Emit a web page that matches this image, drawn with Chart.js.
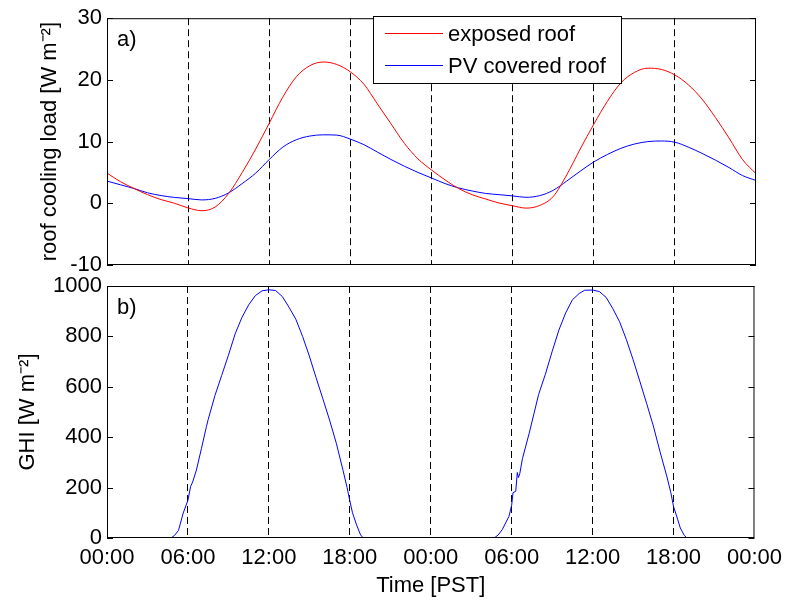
<!DOCTYPE html>
<html>
<head>
<meta charset="utf-8">
<script src="https://cdn.jsdelivr.net/npm/chart.js@4.4.1/dist/chart.umd.min.js"></script>
<style>
  html, body { margin: 0; padding: 0; background: #fff; }
  #wrap { position: relative; width: 789px; height: 603px; }
  canvas { position: absolute; left: 0; top: 0; }
</style>
</head>
<body>
<div id="wrap">
  <canvas id="loadChart" width="789" height="603"></canvas>
  <canvas id="ghiChart" width="789" height="603"></canvas>
</div>
<script>
// hours since start of first day (PST)
const hours = [0, 1, 2, 3, 4, 5, 6, 7, 8, 9, 10, 11, 12, 13, 14, 15, 16, 17, 18, 19, 20, 21, 22, 23, 24,
               25, 26, 27, 28, 29, 30, 31, 32, 33, 34, 35, 36, 37, 38, 39, 40, 41, 42, 43, 44, 45, 46, 47, 48];

// roof cooling load [W m-2]
const exposedRoof = [4.9, 3.5, 2.4, 1.4, 0.6, 0.0, -0.75, -1.2, -0.6, 1.6, 5.0, 8.8, 13.0, 17.2, 20.5, 22.3, 22.9, 22.5, 21.3, 19.3, 16.1, 12.9, 9.7, 7.2, 5.4,
                     3.8, 2.4, 1.4, 0.7, 0.05, -0.4, -0.78, -0.35, 1.1, 4.6, 8.8, 12.8, 16.5, 19.5, 21.2, 21.9, 21.7, 20.8, 19.2, 16.9, 13.9, 10.6, 7.1, 4.8];
const pvCoveredRoof = [3.6, 3.0, 2.4, 1.7, 1.25, 0.95, 0.76, 0.55, 0.8, 1.7, 3.2, 4.9, 7.1, 9.1, 10.3, 10.9, 11.1, 11.05, 10.4, 9.5, 8.3, 7.1, 6.0, 5.0, 4.1,
                       3.2, 2.5, 2.0, 1.6, 1.4, 1.2, 0.97, 1.24, 2.1, 3.6, 5.2, 6.7, 7.9, 8.9, 9.6, 10.0, 10.1, 9.9, 9.1, 8.1, 7.0, 5.8, 4.5, 3.7];

// global horizontal irradiance [W m-2]
const ghiHours = [0, 4.75, 5.0, 5.3, 5.65, 6.0, 6.2, 6.35, 6.63, 7.0, 7.37, 7.5, 8.0, 8.5, 9.0, 9.5, 10.0, 10.5, 11.0, 11.5, 12.0,
                  12.5, 13.0, 13.5, 14.0, 14.5, 15.0, 15.5, 16.0, 16.5, 17.0, 17.5, 17.8, 18.0, 18.2, 18.5, 18.8, 19.0,
                  28.7, 29.0, 29.3, 29.8, 30.0, 30.1, 30.3, 30.42, 30.5, 30.6, 30.8, 31.3, 32.0, 32.5, 33.0, 33.5, 34.0, 34.5, 35.0, 35.4, 36.0,
                  36.5, 37.0, 37.5, 38.0, 38.5, 39.0, 39.5, 40.0, 40.5, 41.0, 41.5, 41.8, 42.0, 42.3, 42.5, 42.8, 43.0, 48];
const ghiValues = [0, 0, 10, 30, 99, 150, 205, 222, 270, 355, 442, 470, 565, 645, 725, 810, 875, 925, 962, 981, 985,
                   982, 958, 915, 868, 800, 722, 636, 553, 468, 376, 268, 200, 148, 100, 52, 12, 0,
                   0, 12, 33, 86, 130, 180, 185, 260, 240, 255, 315, 416, 570, 650, 740, 825, 893, 945, 970, 983, 984,
                   978, 955, 910, 858, 788, 708, 622, 535, 445, 342, 245, 180, 125, 75, 40, 10, 0, 0];

const timeTicks = ['00:00', '06:00', '12:00', '18:00', '00:00', '06:00', '12:00', '18:00', '00:00'];

const FONT = 'Liberation Sans, Arial, Helvetica, sans-serif';
Chart.defaults.font.family = FONT;
Chart.defaults.font.size = 22;
Chart.defaults.color = '#000';

function pts(xs, ys) {
    return xs.map((x, i) => ({ x: x, y: ys[i] }));
}

// MATLAB style box, inward y ticks and panel letter
function framePlugin(letter) {
    return {
        id: 'frame',
        afterDatasetsDraw(chart) {
            const { ctx, chartArea: a, scales } = chart;
            ctx.save();
            ctx.strokeStyle = '#000';
            ctx.lineWidth = 1;
            ctx.strokeRect(a.left + 0.5, a.top + 0.5, a.right - a.left - 1, a.bottom - a.top - 1);
            ctx.beginPath();
            scales.y.ticks.forEach(t => {
                const py = Math.round(scales.y.getPixelForValue(t.value)) + 0.5;
                ctx.moveTo(a.left, py); ctx.lineTo(a.left + 6, py);
                ctx.moveTo(a.right, py); ctx.lineTo(a.right - 6, py);
            });
            ctx.stroke();
            ctx.fillStyle = '#000';
            ctx.font = '22px ' + FONT;
            ctx.textBaseline = 'middle';
            ctx.fillText(letter, a.left + 10, a.top + 22);
            ctx.restore();
        }
    };
}

const legendBox = {
    id: 'legendBox',
    afterDraw(chart) {
        const ctx = chart.ctx;
        const x0 = 373, y0 = 16, w = 248, h = 67;
        ctx.save();
        ctx.fillStyle = '#fff';
        ctx.fillRect(x0, y0, w, h);
        ctx.strokeStyle = '#000';
        ctx.lineWidth = 1;
        ctx.strokeRect(x0 + 0.5, y0 + 0.5, w, h);
        ctx.font = '22px ' + FONT;
        ctx.textBaseline = 'middle';
        chart.data.datasets.forEach((ds, i) => {
            const cy = y0 + 17.5 + i * 32;
            ctx.strokeStyle = ds.borderColor;
            ctx.beginPath();
            ctx.moveTo(385, cy); ctx.lineTo(443, cy);
            ctx.stroke();
            ctx.fillStyle = '#000';
            ctx.fillText(ds.label, 448, cy + 1);
        });
        ctx.restore();
    }
};

const dashedGrid = {
    display: true,
    drawOnChartArea: true,
    drawTicks: false,
    lineWidth: 1,
    color: c => (c.tick && (c.tick.value === 0 || c.tick.value === 48)) ? 'rgba(0,0,0,0)' : '#000'
};

new Chart(document.getElementById('loadChart'), {
    type: 'line',
    data: {
        datasets: [
            { label: 'exposed roof', data: pts(hours, exposedRoof), borderColor: '#ff0000', borderWidth: 1, pointRadius: 0, cubicInterpolationMode: 'monotone' },
            { label: 'PV covered roof', data: pts(hours, pvCoveredRoof), borderColor: '#0000ff', borderWidth: 1, pointRadius: 0, cubicInterpolationMode: 'monotone' }
        ]
    },
    options: {
        responsive: false,
        animation: false,
        devicePixelRatio: 1,
        layout: { padding: { top: 13, right: 33, bottom: 338, left: 0 } },
        plugins: { legend: { display: false }, tooltip: { enabled: false } },
        scales: {
            x: {
                type: 'linear', min: 0, max: 48,
                ticks: { stepSize: 6, display: false },
                grid: dashedGrid,
                border: { display: false, dash: [7, 4] },
                afterFit: s => { s.height = 0; }
            },
            y: {
                min: -10, max: 30,
                ticks: { stepSize: 10, padding: 5, callback: v => String(v) },
                grid: { drawOnChartArea: false, drawTicks: false },
                border: { display: false },
                title: { display: true, text: 'roof cooling load [W m\u207B\u00B2]', padding: { top: 37, bottom: 0 } },
                afterFit: s => { s.width = 107; }
            }
        }
    },
    plugins: [framePlugin('a)'), legendBox]
});

new Chart(document.getElementById('ghiChart'), {
    type: 'line',
    data: {
        datasets: [
            { label: 'GHI', data: pts(ghiHours, ghiValues), borderColor: '#0000ff', borderWidth: 1, pointRadius: 0, tension: 0 }
        ]
    },
    options: {
        responsive: false,
        animation: false,
        devicePixelRatio: 1,
        layout: { padding: { top: 286, right: 33, bottom: 0, left: 0 } },
        plugins: { legend: { display: false }, tooltip: { enabled: false } },
        scales: {
            x: {
                type: 'linear', min: 0, max: 48,
                ticks: { stepSize: 6, padding: 7, maxRotation: 0, callback: (v, i) => timeTicks[i] },
                grid: dashedGrid,
                border: { display: false, dash: [7, 4] },
                title: { display: true, text: 'Time [PST]', padding: { top: 0, bottom: 4 } },
                afterFit: s => { s.height = 65; }
            },
            y: {
                min: 0, max: 1000,
                ticks: { stepSize: 200, padding: 5, callback: v => String(v) },
                grid: { drawOnChartArea: false, drawTicks: false },
                border: { display: false },
                title: { display: true, text: 'GHI [W m\u207B\u00B2]', padding: { top: 15, bottom: 0 } },
                afterFit: s => { s.width = 107; }
            }
        }
    },
    plugins: [framePlugin('b)')]
});
</script>
</body>
</html>
